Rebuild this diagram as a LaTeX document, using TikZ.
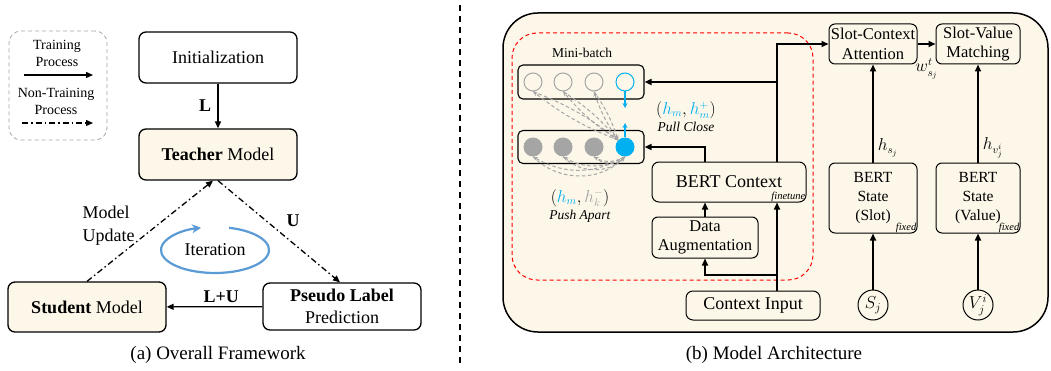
\documentclass[tikz,border=0pt]{standalone}
\usepackage{fontspec}
\setmainfont{Liberation Serif}
\usetikzlibrary{arrows.meta}

\definecolor{creamfill}{RGB}{253,247,233}
\definecolor{pullblue}{RGB}{0,176,240}
\definecolor{iterblue}{RGB}{91,155,213}
\definecolor{pushgray}{RGB}{165,165,165}

\newcommand{\fsz}[2]{\fontsize{#1}{#2}\selectfont}

\tikzset{
  box/.style={draw, line width=1.3pt, rounded corners=7pt, inner sep=0pt, align=center, font=\fsz{18}{22}},
  modelbox/.style={box, fill=creamfill},
  trainarr/.style={line width=1.3pt, -{Triangle[length=7pt,width=6pt]}},
  nontrainarr/.style={line width=1.3pt, dash pattern=on 6pt off 3pt on 1.5pt off 3pt, -{Triangle[length=7pt,width=6pt]}},
  arr/.style={line width=1.6pt, -{Triangle[length=7pt,width=6pt]}},
  legtxt/.style={align=center, font=\fsz{14}{17}},
  lbl/.style={font=\fsz{18}{23}},
  boldlbl/.style={font=\fsz{18}{23}\bfseries},
  rowbox/.style={draw, line width=1.1pt, rounded corners=5pt, minimum width=126pt, minimum height=34pt, inner sep=0pt},
  emptydot/.style={circle, draw=pushgray, line width=1pt, minimum size=18pt, inner sep=0pt},
  fulldot/.style={circle, fill=pushgray, minimum size=19pt, inner sep=0pt},
  pushln/.style={pushgray, line width=1pt, dash pattern=on 3.5pt off 2.5pt, -{Stealth[length=5pt,width=4pt]}},
  pullarr/.style={pullblue, line width=1.2pt, -{Stealth[length=5pt,width=5pt]}},
  smallbox/.style={box, line width=1pt, rounded corners=6pt, font=\fsz{16.5}{19.5}},
  statebox/.style={smallbox, font=\fsz{15.5}{19}},
  inputdot/.style={circle, draw, line width=1pt, minimum size=30pt, inner sep=0pt, font=\fsz{17}{19}},
  tag/.style={font=\fsz{10.5}{11}\itshape, inner sep=1pt},
  note/.style={align=center, font=\fsz{13.5}{16}, inner sep=1pt},
  mathlbl/.style={font=\fsz{16}{18}, inner sep=1pt},
}

\begin{document}
\begin{tikzpicture}[x=1pt,y=1pt]
\useasboundingbox (0,0) rectangle (1051,370);

% (a) overall framework
\node[draw=pushgray, line width=0.8pt, dash pattern=on 4pt off 3pt, rounded corners=12pt,
  minimum width=98pt, minimum height=109pt] (legend) at (58,284.5) {};
\node[legtxt] (trn) at (57,316.5) {Training\\Process};
\coordinate (trnA) at (24,295);
\coordinate (trnB) at (93,295);
\draw[trainarr] (trnA) -- (trnB);
\node[legtxt] (ntrn) at (56,268.5) {Non-Training\\Process};
\coordinate (ntrnA) at (22,247);
\coordinate (ntrnB) at (93,247);
\draw[nontrainarr] (ntrnA) -- (ntrnB);

\node[box, minimum width=158pt, minimum height=51pt] (init) at (218,312.5) {Initialization};
\node[modelbox, minimum width=158pt, minimum height=51pt] (teacher) at (218,215.5) {\textbf{Teacher} Model};
\node[modelbox, minimum width=158pt, minimum height=50pt] (student) at (87,63) {\textbf{Student} Model};
\node[box, minimum width=158pt, minimum height=47pt] (pseudo) at (342,63.5) {\textbf{Pseudo Label}\\Prediction};

\draw[trainarr] (init) -- (teacher) node[midway, left=3pt, boldlbl] {L};
\draw[trainarr] (pseudo) -- (student) node[pos=0.43, above=0pt, boldlbl] {L+U};
\draw[nontrainarr] (student.north) -- ([xshift=-5pt]teacher.south);
\draw[nontrainarr] (teacher.south) -- ([xshift=-2pt]pseudo.north);
\node[lbl, align=left, anchor=west] (upd) at (79,144.5) {Model\\Update};
\node[boldlbl] (ulbl) at (293,149) {U};

\coordinate (itc) at (215,120);
\draw[iterblue, line width=2.2pt, -{Stealth[length=9pt,width=9pt]}]
  (itc) ++(75:54pt and 23pt) arc[start angle=75, end angle=-255, x radius=54pt, y radius=23pt];
\node[lbl] (iter) at (itc) {Iteration};
\node[font=\fsz{19}{22}] (capa) at (218,15) {(a) Overall Framework};

\coordinate (sepT) at (460,365);
\coordinate (sepB) at (460,5);
\draw[line width=1.6pt, dash pattern=on 6pt off 5pt] (sepT) -- (sepB);

% (b) model architecture
\node[draw, line width=1.5pt, fill=creamfill, rounded corners=35pt, inner sep=0pt,
  minimum width=545pt, minimum height=319pt] (frame) at (775.5,197.5) {};
\node[draw=red, line width=1pt, dash pattern=on 4pt off 3pt, rounded corners=25pt, inner sep=0pt,
  minimum width=301pt, minimum height=247pt] (cl) at (662.5,213.5) {};

\node[note] (mb) at (582,317) {Mini-batch};
\node[rowbox] (trow) at (581,288) {};
\node[rowbox, minimum height=33pt] (brow) at (581,223) {};
\foreach \i/\x in {1/533,2/563,3/594} {
  \node[emptydot] (t\i) at (\x,288) {};
  \node[fulldot] (b\i) at (\x,223) {};
}
\node[emptydot, draw=pullblue] (t4) at (625,288) {};
\node[fulldot, fill=pullblue] (b4) at (625,223) {};
\coordinate (pullT) at (625,262);
\coordinate (pullB) at (625,247);
\draw[pullarr] (t4) -- (pullT);
\draw[pullarr] (b4) -- (pullB);
\foreach \i in {1,2,3} {
  \draw[pushln] (b4.north west) to[bend left=8] (t\i.south);
  \draw[pushln] (t\i.south) to[bend left=8] (b4.north west);
  \draw[pushln] (b\i.south) to[bend right=45] (b4.south);
  \draw[pushln] (b4.south) to[bend left=30] (b\i.south);
}
\node[note] (pull) at (686,253.5) {{\fsz{16}{16}$(\textcolor{pullblue}{h_m},\textcolor{pullblue}{h_m^{+}})$}\\[1pt]\textit{Pull Close}};
\node[note] (push) at (580,164.5) {{\fsz{16}{16}$(\textcolor{pullblue}{h_m},\textcolor{pushgray}{h_k^{-}})$}\\[1pt]\textit{Push Apart}};

\node[box, line width=1pt, minimum width=154pt, minimum height=40pt] (bert) at (729,188) {BERT Context};
\node[tag, anchor=south east] (ft) at (bert.south east) {finetune};
\node[smallbox, minimum width=106pt, minimum height=41pt] (aug) at (705,132.5) {Data\\Augmentation};
\node[box, line width=1pt, minimum width=134pt, minimum height=29pt] (ctxin) at (753,64.5) {Context Input};

\node[smallbox, minimum width=88pt, minimum height=40pt] (sca) at (873,326) {Slot-Context\\Attention};
\node[smallbox, minimum width=84pt, minimum height=40pt] (svm) at (978,326) {Slot-Value\\Matching};
\node[statebox, minimum width=88pt, minimum height=70pt] (bss) at (873,172) {BERT\\State\\(Slot)};
\node[tag, anchor=south east] (fxs) at (bss.south east) {fixed};
\node[statebox, minimum width=84pt, minimum height=70pt] (bsv) at (978,172) {BERT\\State\\(Value)};
\node[tag, anchor=south east] (fxv) at (bsv.south east) {fixed};
\node[inputdot] (sj) at (873,65) {$S_j$};
\node[inputdot] (vji) at (978,65) {$V_j^i$};

\coordinate (ctxup) at ([xshift=24pt]ctxin.north);
\coordinate (augjn) at (777,95);
\coordinate (bertup) at ([xshift=48pt]bert.north);
\draw[arr] (ctxup) -- (ctxup |- bert.south);
\draw[arr] (augjn) -| (aug.south);
\draw[arr] (aug.north) -- (aug.north |- bert.south);
\draw[arr] ([xshift=-24pt]bert.north) |- (brow.east);
\draw[arr] (bertup) |- (sca.west);
\draw[arr] (bertup |- trow.east) -- (trow.east);
\draw[arr] (sca) -- (svm) node[midway, below=13pt, mathlbl] {$w_{s_j}^t$};
\draw[arr] (sj) -- (bss);
\draw[arr] (bss) -- (sca) node[pos=0.15, right=3pt, mathlbl] {$h_{s_j}$};
\draw[arr] (vji) -- (bsv);
\draw[arr] (bsv) -- (svm) node[pos=0.15, right=3pt, mathlbl] {$h_{v_j^i}$};
\node[font=\fsz{19}{22}] (capb) at (774,15) {(b) Model Architecture};
\end{tikzpicture}
\end{document}
